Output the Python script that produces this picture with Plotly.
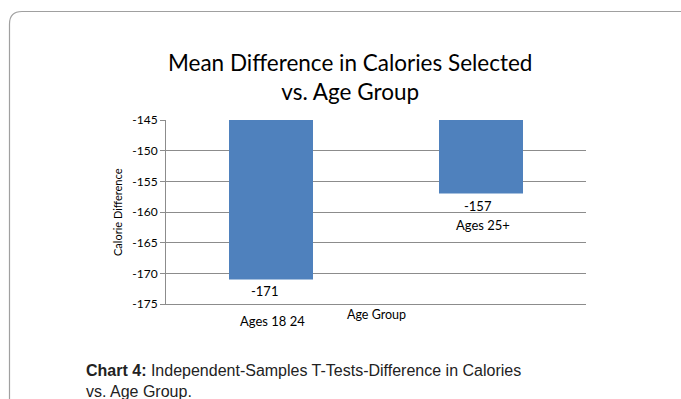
import plotly.graph_objects as go

# Data
categories = ["Ages 18 24", "Ages 25+"]
values = [-171, -157]
value_labels = ["-171", "-157"]
y_ticks = [-175, -170, -165, -160, -155, -150, -145]

W, H = 681, 399
L, R, T, B = 166, 586, 120, 304  # plot area in pixels
AXIS_TOP = -145
AXIS_BOTTOM = -175

FONT = "Lato"
CAPTION_FONT = "Liberation Sans"
GRID = "#8c8c8c"


def px(x):
    return (x - L) / (R - L)


def py(y):
    return (B - y) / (B - T)


fig = go.Figure()
fig.add_trace(go.Bar(
    x=categories,
    y=[v - AXIS_TOP for v in values],
    base=AXIS_TOP,
    marker=dict(color="#4f81bd", line=dict(width=0)),
    width=0.4,
    hoverinfo="skip",
))

annotations = []
# value labels under the bar ends
for cat, v, lab, dx in zip(categories, values, value_labels, [-7, -3]):
    annotations.append(dict(x=cat, y=v, xref="x", yref="y", text=lab,
                            showarrow=False, xanchor="center", yanchor="top",
                            xshift=dx, yshift=-2,
                            font=dict(family=FONT, size=13, color="#000")))
# category labels
annotations.append(dict(x=categories[0], y=py(321), xref="x", yref="paper",
                        text=categories[0], showarrow=False, xshift=1,
                        xanchor="center", yanchor="middle",
                        font=dict(family=FONT, size=13, color="#000")))
annotations.append(dict(x=categories[1], y=py(225), xref="x", yref="paper",
                        text=categories[1], showarrow=False, xshift=2,
                        xanchor="center", yanchor="middle",
                        font=dict(family=FONT, size=13, color="#000")))
# axis titles
annotations.append(dict(x=px(376), y=py(314), xref="paper", yref="paper",
                        text="Age Group", showarrow=False,
                        xanchor="center", yanchor="middle",
                        font=dict(family=FONT, size=12.5, color="#000")))
annotations.append(dict(x=px(117), y=py(212), xref="paper", yref="paper",
                        text="Calorie Difference", showarrow=False, textangle=-90,
                        xanchor="center", yanchor="middle",
                        font=dict(family=FONT, size=11, color="#000")))
# chart title
annotations.append(dict(x=px(350), y=py(77), xref="paper", yref="paper",
                        text="Mean Difference in Calories Selected<br>vs. Age Group",
                        showarrow=False, align="center",
                        xanchor="center", yanchor="middle",
                        font=dict(family=FONT, size=22.5, color="#000")))
# caption
annotations.append(dict(x=px(84), y=py(381), xref="paper", yref="paper",
                        xanchor="left", yanchor="middle", align="left", showarrow=False,
                        text="<b>Chart 4:</b> Independent-Samples T-Tests-Difference in Calories<br>vs. Age Group.",
                        font=dict(family=CAPTION_FONT, size=16, color="#222")))

shapes = [
    # frame with rounded top-left corner
    dict(type="path", xref="paper", yref="paper",
         path=(f"M {px(9.5)},{py(400)} L {px(9.5)},{py(24)} "
               f"Q {px(9.5)},{py(11.5)} {px(22)},{py(11.5)} L {px(682)},{py(11.5)}"),
         line=dict(color="#a0a0a0", width=1.2)),
]

fig.update_layout(
    width=W, height=H,
    margin=dict(l=L, r=W - R, t=T, b=H - B),
    paper_bgcolor="white", plot_bgcolor="white",
    showlegend=False,
    bargap=0.6,
    annotations=annotations,
    shapes=shapes,
    xaxis=dict(showticklabels=False, showgrid=False, zeroline=False,
               showline=True, linecolor=GRID, linewidth=1, ticks="",
               range=[-0.5, 1.5]),
    yaxis=dict(range=[AXIS_BOTTOM, AXIS_TOP], tickvals=y_ticks,
               ticktext=[str(t) for t in y_ticks],
               showgrid=True, gridcolor=GRID, gridwidth=1, zeroline=False,
               showline=True, linecolor=GRID, linewidth=1,
               ticks="outside", ticklen=5, tickcolor=GRID,
               tickfont=dict(family=FONT, size=12, color="#000")),
)

fig.write_html("out.html")
